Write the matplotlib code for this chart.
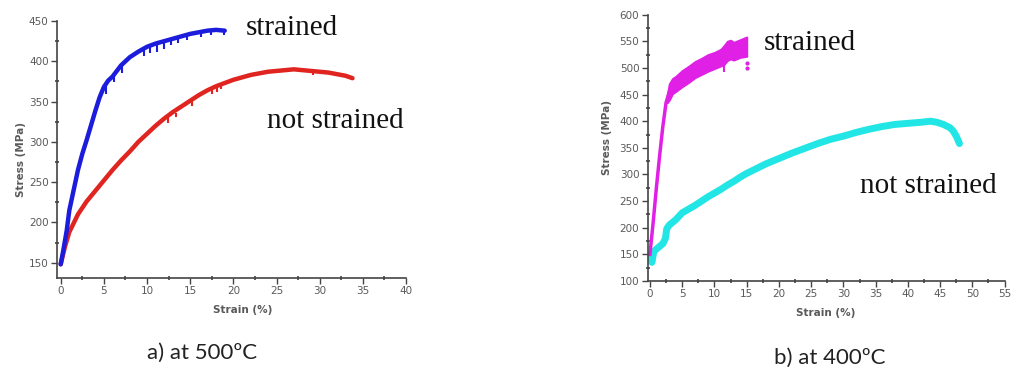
import numpy as np
import matplotlib
matplotlib.use('Agg')
import matplotlib.pyplot as plt

# a) at 500 C - strained (blue)
strain_500_s = [0, 0.3, 0.7, 1, 1.5, 2, 2.5, 3, 3.5, 4, 4.5, 5, 5.5, 6, 7, 8, 9, 10,
                11, 12, 13, 14, 15, 16, 17, 18, 19]
stress_500_s = [148, 165, 190, 215, 240, 265, 285, 302, 320, 338, 355, 368, 376, 381, 395, 405, 412, 418,
                422, 425, 428, 431, 434, 436, 438, 439, 438]
# downward noise spikes on the blue curve
spike_500_s_x = [5.3, 6.2, 7.1, 9.6, 10.4, 11.2, 12.0, 12.8, 13.6, 14.6, 16.2, 17.4, 18.9]
spike_500_s_lo = [360, 374, 385, 407, 410, 412, 415, 420, 423, 427, 430, 432, 432]
spike_500_s_hi = [371, 383, 396, 416, 419, 422, 425, 428, 430, 433, 436, 438, 439]

# a) at 500 C - not strained (red)
strain_500_n = [0, 0.5, 1, 2, 3, 4, 5, 6, 7, 8, 9, 10, 11, 12, 13, 14, 15, 16, 17, 18,
                19, 20, 21, 22, 23, 24, 25, 26, 27, 28, 29, 30, 31, 32, 33, 33.8]
stress_500_n = [148, 170, 188, 210, 226, 239, 252, 265, 277, 288, 300, 310, 320, 329, 337, 344, 351, 358, 364, 369,
                373, 377, 380, 383, 385, 387, 388, 389, 390, 389, 388, 387, 386, 384, 382, 379]
spike_500_n_x = [12.4, 13.4, 15.2, 17.5, 18.1, 18.6, 29.2]
spike_500_n_lo = [324, 331, 345, 359, 362, 365, 383]
spike_500_n_hi = [331, 336, 352, 366, 369, 371, 388]

# b) at 400 C - strained (magenta): steep part, then noisy band
strain_400_s = [0, 0.5, 1, 1.5, 2, 2.5, 3]
stress_400_s = [150, 210, 275, 335, 390, 435, 455]
band_400_x = [2.7, 3, 3.5, 4, 5, 6, 7, 8, 9, 10, 11, 11.5, 12, 12.5, 13, 14, 15]
band_400_hi = [450, 470, 480, 484, 495, 503, 512, 518, 525, 529, 535, 542, 550, 552, 548, 553, 558]
band_400_lo = [435, 440, 452, 456, 465, 473, 482, 488, 494, 499, 504, 507, 514, 517, 515, 520, 522]
spike_400_s_x = [11.5]
spike_400_s_lo = [493]
spike_400_s_hi = [515]
strain_400_s_pts = [15.1, 15.1]
stress_400_s_pts = [510, 500]

# b) at 400 C - not strained (cyan)
strain_400_n = [0, 0.3, 0.6, 1, 1.5, 2, 2.4, 2.6, 3, 4, 5, 6, 7, 8, 9, 10, 11, 12, 13, 14, 15, 16, 17, 18,
                19, 20, 22, 24, 26, 28, 30, 32, 34, 36, 38, 40, 42, 43.5, 44.5, 45.5, 46.5, 47, 47.5, 48]
stress_400_n = [150, 135, 155, 160, 165, 170, 180, 198, 205, 215, 228, 235, 242, 250, 258, 265, 272, 280, 287, 295, 302, 308, 314, 320,
                325, 330, 340, 349, 358, 366, 372, 379, 385, 390, 394, 396, 398, 400, 398, 394, 388, 382, 372, 358]

BLUE = '#1c1cdc'
RED = '#e02420'
MAGENTA = '#e020e4'
CYAN = '#22e6e6'
GREY = '#5a5a5a'


def style_axes(ax, xticks, yticks):
    for side in ('top', 'right'):
        ax.spines[side].set_visible(False)
    for side in ('left', 'bottom'):
        ax.spines[side].set_color('#444444')
        ax.spines[side].set_linewidth(1.2)
    ax.set_xticks(xticks)
    ax.set_yticks(yticks)
    ax.set_xticks([(a + b) / 2 for a, b in zip(xticks[:-1], xticks[1:])], minor=True)
    ax.set_yticks([(a + b) / 2 for a, b in zip(yticks[:-1], yticks[1:])], minor=True)
    ax.tick_params(which='major', direction='out', length=4, width=1, color='#444444',
                   labelsize=7.5, labelcolor=GREY, pad=2)
    ax.tick_params(which='minor', direction='inout', length=2.5, width=1.2, color='#444444')
    ax.set_xlabel('Strain (%)', fontsize=7.5, color=GREY, fontweight='bold')
    ax.set_ylabel('Stress (MPa)', fontsize=7.5, color=GREY, fontweight='bold')


fig = plt.figure(figsize=(10.12, 3.71), dpi=100)

# left panel
ax1 = fig.add_axes([0.0563, 0.2507, 0.3449, 0.6927])
ax1.plot(strain_500_n, stress_500_n, color=RED, linewidth=3.2, solid_capstyle='round')
ax1.vlines(spike_500_n_x, spike_500_n_lo, spike_500_n_hi, color=RED, linewidth=1.5)
ax1.plot(strain_500_s, stress_500_s, color=BLUE, linewidth=3.2, solid_capstyle='round')
ax1.vlines(spike_500_s_x, spike_500_s_lo, spike_500_s_hi, color=BLUE, linewidth=1.5)
ax1.set_xlim(-0.43, 40)
ax1.set_ylim(131, 450)
style_axes(ax1, list(range(0, 41, 5)), list(range(150, 451, 50)))
ax1.xaxis.set_label_coords(0.533, -0.105)
ax1.yaxis.set_label_coords(-0.09, 0.463)

# right panel (right edge pulled in slightly so the "55" label stays inside)
ax2 = fig.add_axes([0.640, 0.2426, 0.3527, 0.7178])
ax2.plot(strain_400_n, stress_400_n, color=CYAN, linewidth=5, solid_capstyle='round')
ax2.plot(strain_400_s, stress_400_s, color=MAGENTA, linewidth=2.5)
ax2.fill_between(band_400_x, band_400_lo, band_400_hi, color=MAGENTA, linewidth=1.5, edgecolor=MAGENTA)
ax2.vlines(spike_400_s_x, spike_400_s_lo, spike_400_s_hi, color=MAGENTA, linewidth=1.5)
ax2.scatter(strain_400_s_pts, stress_400_s_pts, color=MAGENTA, s=4)
ax2.set_xlim(-0.35, 55)
ax2.set_ylim(100, 600)
style_axes(ax2, list(range(0, 56, 5)), list(range(100, 601, 50)))
ax2.xaxis.set_label_coords(0.50, -0.10)
ax2.yaxis.set_label_coords(-0.10, 0.537)

W, H = 1012, 371
serif = dict(family='Liberation Serif', fontsize=21, color='#111111', va='baseline', ha='left')
fig.text(246 / W, 1 - 35 / H, 'strained', **serif)
fig.text(267 / W, 1 - 128 / H, 'not strained', **serif)
fig.text(764 / W, 1 - 50 / H, 'strained', **serif)
fig.text(860 / W, 1 - 193 / H, 'not strained', **serif)

cap = dict(family='Lato', fontsize=16, color='#222222', va='baseline', ha='left')
fig.text(147 / W, 1 - 359 / H, 'a) at 500ºC', **cap)
fig.text(774 / W, 1 - 364 / H, 'b) at 400ºC', **cap)

fig.savefig('out.png', dpi=100)
